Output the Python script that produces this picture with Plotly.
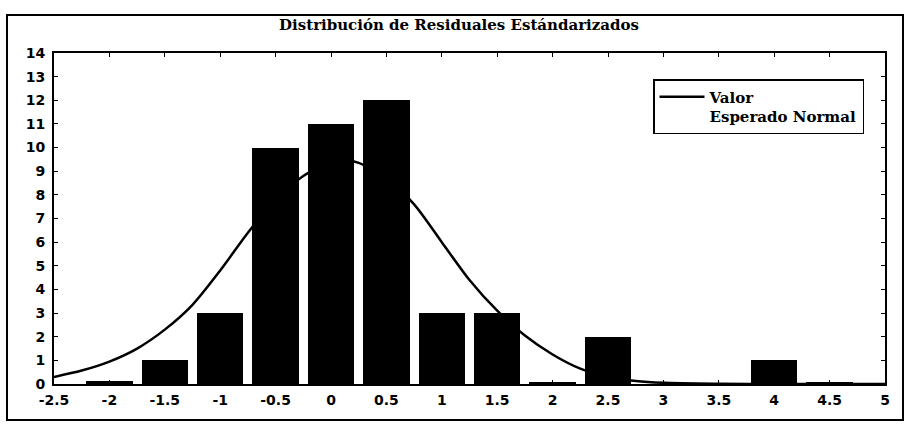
import plotly.graph_objects as go

# Histogram of standardized residuals (bar centers and counts)
bin_centers = [-2.0, -1.5, -1.0, -0.5, 0.0, 0.5, 1.0, 1.5, 2.0, 2.5, 4.0, 4.5]
bin_counts = [0.12, 1, 3, 10, 11, 12, 3, 3, 0.1, 2, 1, 0.08]

# Expected normal curve ("Valor Esperado Normal")
curve_x = [-2.5, -2.25, -2.0, -1.75, -1.5, -1.25, -1.0, -0.75, -0.5, -0.25,
           0.0, 0.1, 0.25, 0.5, 0.75, 1.0, 1.25, 1.5, 1.75, 2.0, 2.25, 2.5,
           2.75, 3.0, 3.5, 4.0, 4.5, 5.0]
curve_y = [0.3, 0.57, 0.95, 1.5, 2.3, 3.35, 4.8, 6.4, 7.8, 8.8,
           9.4, 9.5, 9.35, 8.7, 7.6, 6.0, 4.4, 3.1, 2.05, 1.25, 0.65, 0.3,
           0.13, 0.05, 0.01, 0.0, 0.0, 0.0]

x_ticks = [-2.5, -2, -1.5, -1, -0.5, 0, 0.5, 1, 1.5, 2, 2.5, 3, 3.5, 4, 4.5, 5]
x_tick_text = ["-2.5", "-2", "-1.5", "-1", "-0.5", "0", "0.5", "1", "1.5", "2",
               "2.5", "3", "3.5", "4", "4.5", "5"]
y_ticks = list(range(0, 15))

title_text = "Distribución de Residuales Estándarizados"
legend_name = "Valor<br>Esperado Normal"

W, H = 905, 426
L, R, T, B = 54, 20, 53, 42
pw, ph = W - L - R, H - T - B

def px_x(p):
    return (p - L) / pw

def px_y(p):
    return (H - B - p) / ph

fig = go.Figure()
fig.add_trace(go.Scatter(
    x=curve_x, y=curve_y, mode="lines", name=legend_name,
    line=dict(color="black", width=2.5, shape="spline", smoothing=0.8),
))
fig.add_trace(go.Bar(
    x=bin_centers, y=bin_counts, width=0.42,
    marker=dict(color="black", line=dict(width=0)),
    showlegend=False,
))

axis_font = dict(family="DejaVu Sans", size=14, color="black", weight="bold")
serif_font = dict(family="DejaVu Serif", size=15, color="black", weight="bold")
fig.update_layout(
    width=W, height=H,
    margin=dict(l=L, r=R, t=T, b=B),
    paper_bgcolor="white", plot_bgcolor="white",
    bargap=0,
    title=dict(text=title_text, x=459 / W, xanchor="center",
               y=1 - 25 / H, yanchor="middle", font=serif_font),
    xaxis=dict(range=[-2.5, 5], tickvals=x_ticks, ticktext=x_tick_text,
               showgrid=False, zeroline=False, showline=True, linecolor="black",
               linewidth=2, mirror="ticks", ticks="inside", ticklen=4,
               tickcolor="black", tickfont=axis_font, ticklabelstandoff=2),
    yaxis=dict(range=[0, 14], tickvals=y_ticks,
               showgrid=False, zeroline=False, showline=True, linecolor="black",
               linewidth=2, mirror="ticks", ticks="inside", ticklen=4,
               tickcolor="black", tickfont=axis_font, ticklabelstandoff=4),
    legend=dict(x=px_x(653), y=px_y(79), xanchor="left", yanchor="top",
                bgcolor="white", bordercolor="black", borderwidth=1.5,
                valign="top", itemwidth=45, font=serif_font),
    shapes=[dict(type="rect", xref="paper", yref="paper",
                 x0=px_x(7), x1=px_x(903), y0=px_y(420), y1=px_y(15),
                 line=dict(color="black", width=2), layer="below")],
)

fig.write_html("out.html")
